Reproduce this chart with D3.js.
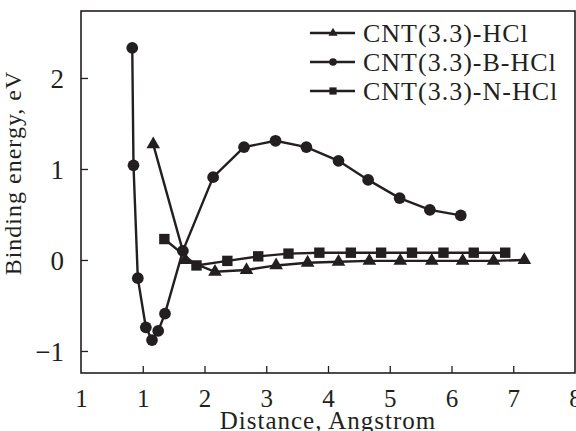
<!DOCTYPE html>
<meta charset="utf-8">
<style>
    body { margin: 0; background: #fff; }
    svg { display: block; }
    .frame { fill: none; stroke: #231f20; stroke-width: 1.6px; }
    .tick line { stroke: #231f20; stroke-width: 1.3px; }
    .tick text { font-family: "Liberation Serif", serif; fill: #231f20; }
    .series { fill: none; stroke: #231f20; stroke-width: 2.4px; }
    .marker { fill: #231f20; }
    .title { font-family: "Liberation Serif", serif; fill: #231f20; letter-spacing: 1px; }
    .legend text { font-family: "Liberation Serif", serif; font-size: 26px; fill: #231f20; letter-spacing: 1px; }
</style>
<svg width="576" height="431"></svg>
<script src="https://d3js.org/d3.v7.min.js"></script>
<script>

    // series: [distance, energy]
    var hclX = [1.17, 1.69, 2.17, 2.68, 3.16, 3.67, 4.17, 4.67, 5.17, 5.68, 6.18, 6.68, 7.18];
    var hclY = [1.27, 0.00, -0.13, -0.11, -0.06, -0.03, -0.02, -0.01, -0.01, -0.01, -0.01, -0.01, 0.00];

    var bX = [0.83, 0.85, 0.92, 1.05, 1.15, 1.25, 1.36, 1.65, 2.14, 2.64, 3.15, 3.65, 4.17, 4.65, 5.16, 5.65, 6.15];
    var bY = [2.33, 1.04, -0.20, -0.74, -0.88, -0.78, -0.59, 0.10, 0.91, 1.24, 1.31, 1.24, 1.09, 0.88, 0.68, 0.55, 0.49];

    var nX = [1.35, 1.87, 2.37, 2.87, 3.36, 3.86, 4.37, 4.86, 5.36, 5.87, 6.36, 6.87];
    var nY = [0.23, -0.06, -0.01, 0.04, 0.07, 0.08, 0.08, 0.08, 0.08, 0.08, 0.08, 0.08];

    var seriesNames = ["CNT(3.3)-HCl", "CNT(3.3)-B-HCl", "CNT(3.3)-N-HCl"];

    var xTicks = [0, 1, 2, 3, 4, 5, 6, 7, 8];
    var xTickLabels = ["1", "1", "2", "3", "4", "5", "6", "7", "8"];
    var yTicks = [-1, 0, 1, 2];
    var yTickLabels = ["\u22121", "0", "1", "2"];

    var svg = d3.select("svg"),
        plotLeft = 81, plotRight = 575, plotTop = 11, plotBottom = 373;

    var x = d3.scaleLinear().domain([0, 8]).range([plotLeft, plotRight]);
    var y = d3.scaleLinear().domain([-1.242, 2.736]).range([plotBottom, plotTop]);

    var xAxis = svg.append("g")
        .attr("transform", "translate(0," + plotBottom + ")")
        .call(d3.axisBottom(x).tickValues(xTicks).tickSizeInner(-7).tickSizeOuter(0).tickPadding(19)
            .tickFormat(function (d, i) { return xTickLabels[i]; }));
    xAxis.select(".domain").remove();
    xAxis.selectAll(".tick text").attr("font-size", 25).attr("dy", "0.6em");
    xAxis.selectAll(".tick").filter(function (d) { return d === 0 || d === 8; }).select("line").remove();

    var yAxis = svg.append("g")
        .attr("transform", "translate(" + plotLeft + ",0)")
        .call(d3.axisLeft(y).tickValues(yTicks).tickSizeInner(-7).tickSizeOuter(0).tickPadding(17)
            .tickFormat(function (d, i) { return yTickLabels[i]; }));
    yAxis.select(".domain").remove();
    yAxis.selectAll(".tick text").attr("font-size", 27).attr("dy", "0.34em");

    svg.append("rect")
        .attr("class", "frame")
        .attr("x", plotLeft).attr("y", plotTop)
        .attr("width", plotRight - plotLeft).attr("height", plotBottom - plotTop);

    var line = d3.line()
        .x(function (d) { return x(d[0]); })
        .y(function (d) { return y(d[1]); });

    function pairs(xs, ys) {
        return xs.map(function (v, i) { return [v, ys[i]]; });
    }

    var series = [
        { name: seriesNames[0], pts: pairs(hclX, hclY), symbol: d3.symbolTriangle, size: 80, legSize: 36 },
        { name: seriesNames[1], pts: pairs(bX, bY), symbol: d3.symbolCircle, size: 108, legSize: 46 },
        { name: seriesNames[2], pts: pairs(nX, nY), symbol: d3.symbolSquare, size: 108, legSize: 52 }
    ];

    series.forEach(function (s) {
        svg.append("path")
            .attr("class", "series")
            .attr("d", line(s.pts));
        svg.append("g").selectAll("path")
            .data(s.pts)
            .enter().append("path")
            .attr("class", "marker")
            .attr("transform", function (d) { return "translate(" + x(d[0]) + "," + y(d[1]) + ")"; })
            .attr("d", d3.symbol().type(s.symbol).size(s.size));
    });

    // legend
    var legend = svg.append("g").attr("class", "legend");
    series.forEach(function (s, i) {
        var row = legend.append("g").attr("transform", "translate(310," + (33 + i * 29) + ")");
        row.append("line")
            .attr("x1", 0).attr("x2", 45)
            .attr("stroke", "#231f20").attr("stroke-width", 2.4);
        row.append("path")
            .attr("class", "marker")
            .attr("transform", "translate(23,0)")
            .attr("d", d3.symbol().type(s.symbol).size(s.legSize));
        row.append("text")
            .attr("x", 53).attr("dy", "0.33em")
            .text(s.name);
    });

    svg.append("text")
        .attr("class", "title")
        .attr("x", 328).attr("y", 429)
        .attr("text-anchor", "middle")
        .attr("font-size", 25)
        .text("Distance, Angstrom");

    svg.append("text")
        .attr("class", "title")
        .attr("transform", "translate(21,173) rotate(-90)")
        .attr("text-anchor", "middle")
        .attr("font-size", 24)
        .text("Binding energy, eV");
</script>
